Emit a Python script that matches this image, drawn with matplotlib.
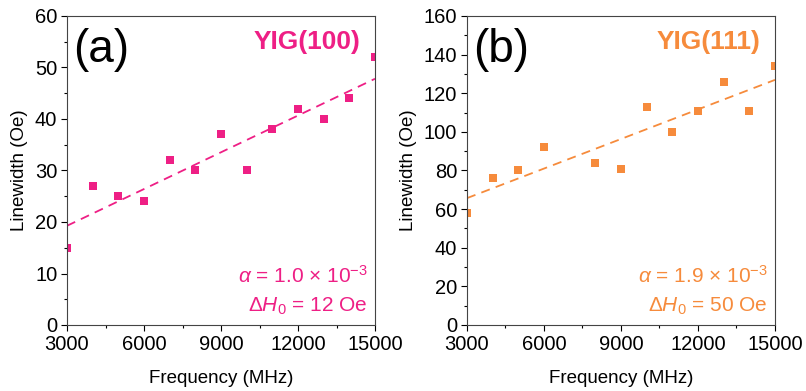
import matplotlib
matplotlib.use('Agg')
import matplotlib.pyplot as plt
import numpy as np
from matplotlib.ticker import MultipleLocator

plt.rcParams['font.family'] = ['Liberation Sans', 'DejaVu Sans']
plt.rcParams['mathtext.fontset'] = 'custom'
plt.rcParams['mathtext.rm'] = 'Liberation Sans'
plt.rcParams['mathtext.it'] = 'Liberation Sans:italic'

# YIG(100)
freq_a = [3000, 4000, 5000, 6000, 7000, 8000, 9000, 10000, 11000, 12000, 13000, 14000, 15000]
lw_a = [15, 27, 25, 24, 32, 30, 37, 30, 38, 42, 40, 44, 52]
# YIG(111)
freq_b = [3000, 4000, 5000, 6000, 8000, 9000, 10000, 11000, 12000, 13000, 14000, 15000]
lw_b = [58, 76, 80, 92, 84, 81, 113, 100, 111, 126, 111, 134]

pink = '#EE1F85'
orange = '#F68B3C'

fig = plt.figure(figsize=(8.06, 3.91), dpi=100)

panels = [
    (67, freq_a, lw_a, pink, '(a)', 'YIG(100)', (0, 60), 10, 5,
     r'$\alpha$ = 1.0 × 10$^{-3}$', r'Δ$H_0$ = 12 Oe'),
    (467, freq_b, lw_b, orange, '(b)', 'YIG(111)', (0, 160), 20, 10,
     r'$\alpha$ = 1.9 × 10$^{-3}$', r'Δ$H_0$ = 50 Oe'),
]

for left, fx, fy, col, tag, name, ylim, ymaj, ymin, t1, t2 in panels:
    ax = fig.add_axes([left / 806, 66 / 391, 308 / 806, 309 / 391])
    ax.plot(fx, fy, 's', color=col, markersize=6, markeredgewidth=0)
    k, b = np.polyfit(fx, fy, 1)
    xx = np.array([3000, 15000])
    ax.plot(xx, k * xx + b, '--', color=col, lw=1.3, dashes=(5, 3.5))
    ax.set_xlim(3000, 15000)
    ax.set_ylim(*ylim)
    ax.xaxis.set_major_locator(MultipleLocator(3000))
    ax.xaxis.set_minor_locator(MultipleLocator(1500))
    ax.yaxis.set_major_locator(MultipleLocator(ymaj))
    ax.yaxis.set_minor_locator(MultipleLocator(ymin))
    ax.tick_params(which='both', direction='out', labelsize=14.5, colors='black')
    ax.tick_params(which='major', length=4, width=0.8, pad=3)
    ax.tick_params(which='minor', length=2.5, width=0.8)
    for s in ax.spines.values():
        s.set_linewidth(0.8)
        s.set_color('#444444')
    ax.set_xlabel('Frequency (MHz)', fontsize=13.5, labelpad=12)
    ax.set_ylabel('Linewidth (Oe)', fontsize=13.5, labelpad=5)
    ax.text(0.02, 0.96, tag, transform=ax.transAxes, fontsize=33, va='top', ha='left')
    ax.text(0.954, 0.916, name, transform=ax.transAxes, fontsize=19, fontweight='bold',
            color=col, va='center', ha='right')
    ax.text(0.977, 0.136, t1, transform=ax.transAxes, fontsize=15, color=col,
            ha='right', va='baseline')
    ax.text(0.977, 0.042, t2, transform=ax.transAxes, fontsize=15, color=col,
            ha='right', va='baseline')

fig.savefig('out.png', dpi=100)
